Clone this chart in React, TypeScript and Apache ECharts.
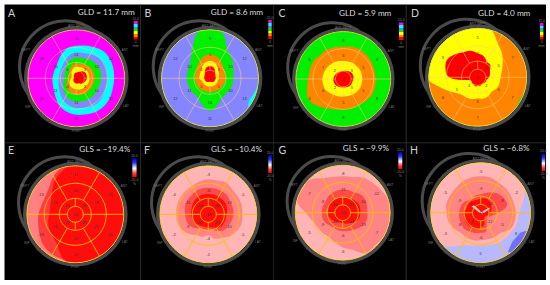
import React, { useEffect, useRef } from "react";
import * as echarts from "echarts";

const panelLetters = ["A", "B", "C", "D", "E", "F", "G", "H"];
const panelTitles = ["GLD = 11.7 mm", "GLD = 8.6 mm", "GLD = 5.9 mm", "GLD = 4.0 mm", "GLS = \u221219.4%", "GLS = \u221210.4%", "GLS = \u22129.9%", "GLS = \u22126.8%"];
const edgeNames = ["ANT SEPT", "ANT", "LAT", "POST", "INF", "SEPT"];

// Radial contour profiles: radius / disc radius at equal angles, clockwise from the top.
const aMagenta = [1.2];
const aCyan = [.67,.70,.74,.79,.80,.79,.78,.78,.80,.81,.80,.77,.75,.72,.67,.59,.53,.50,.49,.48,.48,.52,.59,.65];
const aBlue = [.53,.54,.57,.62,.65,.65,.64,.64,.65,.67,.66,.63,.61,.58,.53,.46,.41,.38,.36,.36,.36,.39,.44,.50];
const aGreen = [.43,.44,.46,.49,.51,.52,.51,.50,.49,.50,.50,.49,.48,.46,.42,.36,.31,.27,.25,.25,.27,.30,.36,.41];
const aOrange = [.31,.31,.33,.35,.37,.38,.38,.37,.36,.36,.36,.35,.34,.32,.30,.27,.23,.19,.17,.16,.17,.20,.24,.28];
const aYellow = [.24,.24,.25,.26,.27,.27,.27,.27,.26,.25,.25,.24,.23,.22,.21,.19,.16,.13,.11,.10,.11,.14,.18,.22];
const aRed = [.12,.13,.16,.20,.22,.22,.22,.20,.18,.16,.12,.11,.11,.10,.09,.08,.07,.06,.05,.05,.06,.07,.09,.11];

const bCyan = [1.2];
const bBlue = [1.1,1.1,1.1,1.1,1.1,1.1,1.02,.97,.93,1.05,1.1,1.1,1.1,1.1,1.1,1.1,1.1,1.1,1.1,1.1,1.1,1.1,1.1,1.1];
const bGreen = [1.05,.98,.70,.62,.55,.50,.48,.48,.47,.46,.48,.58,.67,.58,.48,.46,.47,.47,.48,.48,.50,.56,.72,.98];
const bOrange = [.49,.47,.42,.37,.34,.33,.32,.31,.30,.30,.29,.28,.28,.28,.29,.30,.30,.30,.31,.31,.33,.36,.41,.47];
const bYellow = [.36,.34,.29,.24,.21,.19,.18,.17,.17,.17,.17,.17,.16,.17,.17,.17,.17,.18,.22,.22,.23,.25,.30,.34];
const bRed = [.25,.24,.20,.15,.13,.12,.12,.11,.11,.10,.09,.08,.07,.08,.09,.10,.11,.11,.12,.12,.13,.15,.20,.24];

const cGreen = [1.2];
const cOrange = [.68,.70,.71,.70,.69,.68,.68,.69,.69,.66,.63,.64,.64,.66,.71,.79,.85,.79,.74,.73,.73,.70,.71,.69];
const cYellow = [.38,.38,.39,.39,.40,.40,.40,.40,.40,.39,.38,.37,.37,.38,.39,.41,.44,.44,.44,.43,.42,.41,.40,.39];
const cRed = [.17,.18,.19,.21,.22,.22,.21,.20,.20,.20,.19,.18,.18,.18,.19,.20,.21,.21,.21,.20,.19,.18,.17,.17];

const dGreen = [1.2];
const dOrange = [1.1,1.1,1.1,1.1,1.1,1.1,1.1,1.02,.97,1.03,1.1,1.1,1.1,1.1,1.1,1.1,1.1,1.1,1.1,1.1,1.1,1.1,1.1,1.1];
const dYellow = [1.1,1.02,.81,.70,.59,.51,.47,.46,.45,.41,.44,.45,.43,.46,.47,.49,.60,.79,1.05,1.1,1.1,1.1,1.1,1.1];
const dRed = [.49,.45,.37,.36,.29,.26,.23,.19,.19,.17,.17,.18,.18,.19,.17,.17,.15,.21,.58,.68,.72,.66,.59,.56];

const ePink = [1.2];
const eMid = [1.1,1.1,1.1,1.1,1.1,1.1,1.1,1.1,1.1,1.1,1.1,1.1,1.05,.97,.95,.92,.85,.79,.76,.72,.72,.77,.90,1.02];
const eRed = [1.1,1.1,1.1,1.1,1.1,1.1,1.1,1.1,1.1,1.1,1.1,1.1,1.05,.95,.74,.65,.62,.58,.54,.54,.58,.67,.83,.95];

const fPale = [1.2];
const fMid = [.72,.72,.75,.71,.71,.71,.70,.71,.68,.63,.56,.52,.43,.48,.49,.57,.63,.66,.66,.67,.67,.67,.67,.70];
const fDeep = [.55,.55,.55,.55,.52,.52,.52,.50,.48,.46,.40,.33,.32,.33,.33,.40,.45,.47,.48,.50,.52,.52,.54,.55];
const fRed = [.42,.42,.42,.42,.42,.40,.38,.37,.37,.36,.32,.28,.27,.27,.28,.30,.33,.34,.36,.36,.38,.40,.42,.42];

const gPale = [1.2];
const gMid = [.77,.78,.85,.89,.94,1.0,1.05,1.0,1.0,.97,.98,.81,.73,.64,.59,.60,.61,.66,.78,1.0,.98,.98,.84,.78];
const gDeep = [.49,.49,.49,.54,.55,.53,.52,.53,.51,.46,.42,.40,.39,.38,.37,.38,.42,.44,.44,.44,.43,.45,.47,.48];
const gRed = [.33,.33,.34,.36,.38,.38,.37,.37,.34,.30,.26,.24,.22,.22,.23,.25,.28,.30,.31,.31,.32,.32,.32,.33];

const hLight = [1.2];
const hPink = [1.1,1.1,1.1,1.1,1.02,.88,.77,.76,.73,.71,.70,.67,.65,.68,.75,.95,1.08,1.1,1.1,1.1,1.1,1.1,1.1,1.1];
const hMid = [.73,.73,.70,.70,.69,.69,.70,.70,.67,.57,.56,.55,.55,.57,.57,.57,.62,.67,.68,.71,.70,.70,.72,.73];
const hDeep = [.37,.41,.47,.52,.55,.54,.36,.23,.18,.19,.24,.39,.40,.42,.44,.46,.45,.44,.43,.42,.40,.35,.33,.36];
const hRed = [.28,.30,.30,.28,.25,.22,.20,.17,.12,.12,.15,.25,.30,.34,.34,.35,.35,.34,.33,.30,.30,.30,.28,.27];
// Free outlines as [angle in degrees clockwise from top, radius / disc radius]
const hBluePatch = [[146,.965],[133,.86],[117,.885],[111,.99],[125,1.0],[141,1.0]];
const hStreak = [[305,.22],[318,.2],[45,.02],[58,.2],[68,.2],[120,.04],[280,.03]];

const valuesA = { basal: [11,12,11,11,13,13], mid: [14,12,11,11,11,10], apical: [3,3,4,6], apex: [1] };
const valuesB = { basal: [9,12,13,11,12,12], mid: [5,10,10,10,11,10], apical: [3,5,5,3], apex: [1] };
const valuesC = { basal: [8,8,8,8,6,8], mid: [6,5,5,5,6,7], apical: [3,3,2,2], apex: [1] };
const valuesD = { basal: [5,7,7,7,6,3], mid: [3,5,6,6,5,1], apical: [2,2,4,3], apex: [2] };
const valuesE = { basal: [-17,-20,-21,-22,-13,-13], mid: [-20,-19,-21,-20,-16,-16], apical: [-25,-25,-23,-24], apex: [-24] };
const valuesF = { basal: [-3,-5,-5,-1,-2,-4], mid: [-11,-13,-10,-4,-8,-11], apical: [-20,-20,-17,-16], apex: [-18] };
const valuesG = { basal: [-8,-12,-7,-6,-5,-7], mid: [-11,-10,-13,-6,-9,-8], apical: [-13,-13,-10,-10], apex: [-14] };
const valuesH = { basal: [-5,-2,8,5,-3,-5], mid: [-9,-8,-5,-6,-8,-9], apical: [-12,-12,-9,-10], apex: [-13] };
const panelValues = [valuesA, valuesB, valuesC, valuesD, valuesE, valuesF, valuesG, valuesH];

// Colours
const MAGENTA = "#ff00ff", CYAN = "#00ffff", PERI = "#8585ff", GREEN = "#00f000", ORANGE = "#ff8400", YELLOW = "#ffff00", RED = "#ff0000";
const PALE = "#ffb5b5", MIDP = "#ff8585", DEEP = "#ff4a4a", FULL = "#ff0d0d", LBLUE = "#b8b8ff", DBLUE = "#7070ff";

const panelLayers: any[][] = [
  [[aMagenta, MAGENTA], [aCyan, CYAN], [aBlue, PERI], [aGreen, GREEN], [aOrange, ORANGE], [aYellow, YELLOW], [aRed, RED]],
  [[bCyan, CYAN], [bBlue, PERI], [bGreen, GREEN], [bOrange, ORANGE], [bYellow, YELLOW], [bRed, RED]],
  [[cGreen, GREEN], [cOrange, ORANGE], [cYellow, YELLOW], [cRed, RED]],
  [[dGreen, GREEN], [dOrange, ORANGE], [dYellow, YELLOW], [dRed, RED]],
  [[ePink, "#ff8080"], [eMid, "#ff3c3c"], [eRed, FULL]],
  [[fPale, PALE], [fMid, MIDP], [fDeep, DEEP], [fRed, FULL]],
  [[gPale, PALE], [gMid, MIDP], [gDeep, DEEP], [gRed, FULL]],
  [[hLight, LBLUE], [hBluePatch, DBLUE], [hPink, PALE], [hMid, MIDP], [hDeep, DEEP], [hRed, FULL], [hStreak, "#ffc8c8"]],
];

// Layout (page pixels)
const layout = [
  { cx: 76.3, cy: 78.3, R: 48.5, tx: 77.7, ty: 12, lx: 8, ly: 12.5, bar: [133.7, 21, 4, 18.5] },
  { cx: 210, cy: 78.3, R: 48.5, tx: 210.7, ty: 12, lx: 144.5, ly: 12.5, bar: [268.3, 20, 3.4, 19] },
  { cx: 343.3, cy: 79, R: 47.5, tx: 339, ty: 12.5, lx: 278.5, ly: 12.5, bar: [399, 22.5, 4.5, 17.5] },
  { cx: 477.7, cy: 77.3, R: 49, tx: 478, ty: 12.5, lx: 411, ly: 12.5, bar: [540, 23, 3.4, 16.5] },
  { cx: 75.3, cy: 214.3, R: 48.5, tx: 79.3, ty: 148.7, lx: 8, ly: 150, bar: [132.3, 158, 4.3, 19] },
  { cx: 208.3, cy: 214.3, R: 48.5, tx: 211, ty: 148.7, lx: 144, ly: 150, bar: [268.3, 155, 3.4, 18] },
  { cx: 342.7, cy: 212.7, R: 47.5, tx: 342.7, ty: 148, lx: 278.5, ly: 150, bar: [398.3, 152, 4, 17] },
  { cx: 480.7, cy: 212.7, R: 50, tx: 483.3, ty: 148, lx: 410, ly: 150, bar: [541.7, 153.7, 3.4, 17.6] },
];
const edgeOffsets = [[0, -1.08], [1.0, -0.58], [1.02, 0.58], [0, 1.08], [-1.0, 0.6], [-1.04, -0.58]];
const dividers = [[140.3, 4.5, 0.8, 275.5], [273.5, 4.5, 0.6, 275.5], [405.8, 4.5, 0.8, 275.5], [4.5, 142.5, 541.5, 0.8]];

const rad = (d: number) => (d * Math.PI) / 180;

function radialOutline(profile: number[]) {
  const n = profile.length;
  const out: [number, number][] = [];
  if (n === 1) {
    for (let k = 0; k < 180; k++) out.push([k * 2, Math.min(profile[0], 1)]);
    return out;
  }
  const sub = 6;
  for (let i = 0; i < n; i++) {
    const p0 = profile[(i - 1 + n) % n], p1 = profile[i], p2 = profile[(i + 1) % n], p3 = profile[(i + 2) % n];
    for (let s = 0; s < sub; s++) {
      const t = s / sub;
      const r = 0.5 * (2 * p1 + (p2 - p0) * t + (2 * p0 - 5 * p1 + 4 * p2 - p3) * t * t + (3 * p1 - p0 - 3 * p2 + p3) * t * t * t);
      out.push([((i + t) * 360) / n, Math.max(0.005, Math.min(r, 1))]);
    }
  }
  return out;
}

function outlineOf(source: any[]) {
  if (Array.isArray(source[0])) return source.map((p: number[]) => [p[0], Math.min(p[1], 1)] as [number, number]);
  return radialOutline(source as number[]);
}

export default function App() {
  const ref = useRef<HTMLDivElement>(null);
  useEffect(() => {
    document.body.style.margin = "0";
    const chart = echarts.init(ref.current!, undefined, { renderer: "svg" });
    const polar = (p: number, r: number, a: number) => {
      const L = layout[p];
      return [L.cx + r * L.R * Math.sin(rad(a)), L.cy - r * L.R * Math.cos(rad(a))];
    };

    const layers: { p: number; src: any[]; color: string }[] = [];
    panelLayers.forEach((list, p) => list.forEach((l: any) => layers.push({ p, src: l[0], color: l[1] })));

    const labels: { x: number; y: number; text: string }[] = [];
    panelValues.forEach((v, p) => {
      v.basal.forEach((t, i) => { const q = polar(p, 0.82, i * 60); labels.push({ x: q[0], y: q[1], text: String(t) }); });
      v.mid.forEach((t, i) => { const q = polar(p, 0.49, i * 60); labels.push({ x: q[0], y: q[1], text: String(t) }); });
      v.apical.forEach((t, i) => { const q = polar(p, 0.25, 45 + i * 90); labels.push({ x: q[0], y: q[1], text: String(t) }); });
      v.apex.forEach((t) => { const q = polar(p, 0, 0); labels.push({ x: q[0], y: q[1], text: String(t) }); });
    });

    const rectOf = (api: any, b: number[], style: any) => {
      const a = api.coord([b[0], b[1]]), c = api.coord([b[0] + b[2], b[1] + b[3]]);
      return { type: "rect", shape: { x: a[0], y: a[1], width: c[0] - a[0], height: c[1] - a[1] }, style, silent: true };
    };

    const gridChildren = (api: any, p: number) => {
      const L = layout[p];
      const ls = p < 4 ? "rgba(255,205,130,0.8)" : "#ffc000";
      const lw = p < 4 ? 0.7 : 0.9;
      const ch: any[] = [];
      const c = api.coord([L.cx, L.cy]);
      [0.165, 0.33, 0.64].forEach((f) =>
        ch.push({ type: "circle", shape: { cx: c[0], cy: c[1], r: f * L.R }, style: { fill: "none", stroke: ls, lineWidth: lw }, silent: true })
      );
      ch.push({ type: "circle", shape: { cx: c[0], cy: c[1], r: L.R }, style: { fill: "none", stroke: p < 4 ? "#e8dc50" : "#ffd830", lineWidth: 0.9 }, silent: true });
      const seg = (a: number, r0: number, r1: number) => {
        const s = api.coord(polar(p, r0, a)), e = api.coord(polar(p, r1, a));
        ch.push({ type: "line", shape: { x1: s[0], y1: s[1], x2: e[0], y2: e[1] }, style: { stroke: ls, lineWidth: lw }, silent: true });
      };
      [30, 90, 150, 210, 270, 330].forEach((a) => seg(a, 0.33, 1));
      [0, 90, 180, 270].forEach((a) => seg(a, 0.165, 0.33));
      return ch;
    };

    const textEl = (api: any, x: number, y: number, text: string, font: any, align = "center") => {
      const c = api.coord([x, y]);
      return { type: "text", x: c[0], y: c[1], style: { text, align, verticalAlign: "middle", ...font }, silent: true };
    };

    const ids = (arr: any[]) => arr.map((_, i) => [i]);
    const base = { type: "custom", coordinateSystem: "cartesian2d", clip: false, silent: true } as any;

    chart.setOption({
      animation: false,
      backgroundColor: "#ffffff",
      tooltip: { show: false },
      grid: { left: 0, right: 0, top: 0, bottom: 0 },
      xAxis: { type: "value", min: 0, max: 550, show: false },
      yAxis: { type: "value", min: 0, max: 285, inverse: true, show: false },
      series: [
        { ...base, z: 1, data: [[0]], renderItem: (_: any, api: any) => ({
            type: "group",
            children: [
              rectOf(api, [4.5, 4.5, 541.5, 275.5], { fill: "#000000" }),
              ...dividers.map((d) => rectOf(api, d, { fill: "#3a3a3a" })),
            ],
          }) },
        { ...base, z: 2, data: ids(layout), renderItem: (params: any, api: any) => {
            const L = layout[params.dataIndex];
            const c = api.coord([L.cx, L.cy]);
            const o = api.coord([L.cx - 0.22 * L.R, L.cy - 0.235 * L.R]);
            const stroke = "#4a4a4a";
            return {
              type: "group",
              children: [
                { type: "arc", shape: { cx: o[0], cy: o[1], r: 0.95 * L.R, startAngle: rad(-232), endAngle: rad(-48), clockwise: true }, style: { fill: "none", stroke, lineWidth: 3 }, silent: true },
                { type: "circle", shape: { cx: c[0], cy: c[1], r: L.R * 1.045 }, style: { fill: "none", stroke, lineWidth: 3.2 }, silent: true },
              ],
            };
          } },
        { ...base, z: 3, data: ids(layers), renderItem: (params: any, api: any) => {
            const l = layers[params.dataIndex];
            const pts = outlineOf(l.src).map((q) => api.coord(polar(l.p, q[1], q[0])));
            return { type: "polygon", shape: { points: pts }, style: { fill: l.color }, silent: true };
          } },
        { ...base, z: 4, data: ids(layout), renderItem: (params: any, api: any) => ({ type: "group", children: gridChildren(api, params.dataIndex) }) },
        { ...base, z: 5, data: ids(labels), renderItem: (params: any, api: any) => {
            const t = labels[params.dataIndex];
            return textEl(api, t.x, t.y, t.text, { fontSize: 4, fontFamily: "Liberation Sans", fill: "#4a3030" });
          } },
        { ...base, z: 6, data: ids(layout), renderItem: (params: any, api: any) => {
            const p = params.dataIndex;
            const L = layout[p];
            const children: any[] = [];
            children.push(textEl(api, L.tx, L.ty, panelTitles[p], { fontSize: 8.2, fontFamily: "Lato", fill: "#dcdcdc" }, "left"));
            children.push(textEl(api, L.lx, L.ly, panelLetters[p], { fontSize: 10.5, fontFamily: "Lato", fill: "#d0d0d0" }, "left"));
            edgeNames.forEach((n, i) => {
              const off = edgeOffsets[i];
              children.push(textEl(api, L.cx + off[0] * L.R, L.cy + off[1] * L.R, n, { fontSize: 3.4, fontFamily: "Liberation Sans", fill: "#707070" }));
            });
            const b = L.bar;
            const stops = p < 4
              ? [[0, MAGENTA], [0.17, MAGENTA], [0.17, CYAN], [0.3, CYAN], [0.3, "#6080ff"], [0.42, "#6080ff"], [0.42, GREEN], [0.56, GREEN], [0.56, YELLOW], [0.7, YELLOW], [0.7, ORANGE], [0.84, ORANGE], [0.84, RED], [1, RED]]
              : [[0, "#0000b0"], [0.25, "#3030ff"], [0.55, "#ffffff"], [0.8, "#ff4040"], [1, "#ff0000"]];
            children.push(rectOf(api, b, {
              fill: new echarts.graphic.LinearGradient(0, 0, 0, 1, stops.map((s: any) => ({ offset: s[0], color: s[1] }))),
            }));
            const small = { fontSize: 3.4, fontFamily: "Liberation Sans", fill: "#808080" };
            const mx = b[0] + b[2] / 2;
            children.push(textEl(api, mx, b[1] - 2.5, p < 4 ? "15.0" : "20.0", small));
            children.push(textEl(api, mx, b[1] + b[3] + 2.5, p < 4 ? "0" : "-20.0", small));
            children.push(textEl(api, mx, b[1] + b[3] + 6.5, p < 4 ? "mm" : "%", small));
            return { type: "group", children };
          } },
      ],
    });
    return () => chart.dispose();
  }, []);
  return <div ref={ref} style={{ width: 550, height: 285 }} />;
}
